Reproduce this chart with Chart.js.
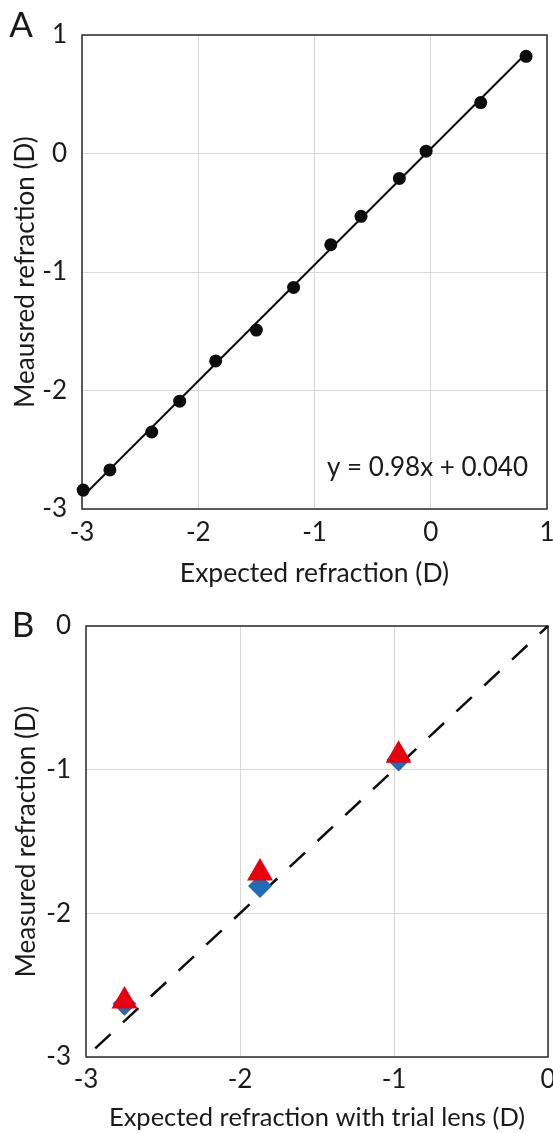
<!DOCTYPE html>
<html>
<head>
<meta charset="utf-8">
<script src="https://cdn.jsdelivr.net/npm/chart.js@4.4.1/dist/chart.umd.min.js"></script>
<style>
  html, body { margin: 0; padding: 0; background: #fff; }
  .panel { position: absolute; left: 0; width: 553px; }
  #wrapA { top: 0; height: 595px; }
  #wrapB { top: 595px; height: 538px; }
</style>
</head>
<body>
<div class="panel" id="wrapA"><canvas id="chartA"></canvas></div>
<div class="panel" id="wrapB"><canvas id="chartB"></canvas></div>
<script>
// Panel A: measured vs expected refraction
const expectedA = [-2.99, -2.76, -2.40, -2.16, -1.85, -1.50, -1.18, -0.86, -0.60, -0.27, -0.04, 0.43, 0.82];
const measuredA = [-2.84, -2.67, -2.35, -2.09, -1.75, -1.49, -1.13, -0.77, -0.53, -0.21, 0.02, 0.43, 0.82];
const fitSlope = 0.98;
const fitIntercept = 0.040;
const ticksA = ['-3', '-2', '-1', '0', '1'];

// Panel B: with trial lens (two measurement series)
const expectedB = [-2.75, -1.87, -0.97];
const measuredBlue = [-2.63, -1.81, -0.93];
const measuredRed = [-2.61, -1.72, -0.90];
const identityB = [-2.94, 0];
const ticksB = ['-3', '-2', '-1', '0'];

const FONT = 'Lato, "Open Sans", sans-serif';
const TEXT = '#1a1a1a';
const SIZE = 26;

function axis(min, max, labels, o) {
  return {
    type: 'linear',
    min: min,
    max: max,
    ticks: {
      stepSize: 1,
      padding: o.tickPad,
      color: TEXT,
      font: { family: FONT, size: SIZE },
      callback: (v, i) => labels[i],
    },
    grid: { color: '#d9d9d9', lineWidth: 1, drawTicks: false },
    border: { display: false },
    title: {
      display: true,
      text: o.title,
      color: TEXT,
      font: { family: FONT, size: o.titleSize || SIZE },
      padding: o.titlePad,
    },
    afterFit: (s) => {
      if (s.isHorizontal()) s.height = o.size; else s.width = o.size;
      s.paddingLeft = s.paddingRight = s.paddingTop = s.paddingBottom = 0;
    },
  };
}

// box around the plot area
const frame = {
  id: 'frame',
  beforeDatasetsDraw(chart) {
    const { ctx, chartArea: a } = chart;
    ctx.save();
    ctx.strokeStyle = '#2b2b2b';
    ctx.lineWidth = 1.5;
    ctx.strokeRect(a.left, a.top, a.width, a.height);
    ctx.restore();
  },
};

// panel letters and the fit equation
const notes = {
  id: 'notes',
  afterDraw(chart, args, opts) {
    const { ctx, chartArea: a } = chart;
    ctx.save();
    ctx.fillStyle = TEXT;
    ctx.textBaseline = 'middle';
    (opts.items || []).forEach(t => {
      ctx.font = t.size + 'px ' + FONT;
      ctx.textAlign = t.align;
      const p = t.at(a);
      ctx.fillText(t.text, p[0], p[1]);
    });
    ctx.restore();
  },
};

const xMinA = Math.min(...expectedA);
const xMaxA = Math.max(...expectedA);

new Chart(document.getElementById('chartA'), {
  type: 'scatter',
  data: {
    datasets: [
      {
        data: expectedA.map((x, i) => ({ x: x, y: measuredA[i] })),
        pointRadius: 6.5,
        backgroundColor: '#0d0d0d',
        borderWidth: 0,
        clip: false,
        order: 0,
      },
      {
        type: 'line',
        data: [xMinA, xMaxA].map(x => ({ x: x, y: fitSlope * x + fitIntercept })),
        borderColor: '#0d0d0d',
        borderWidth: 2,
        pointRadius: 0,
        fill: false,
        clip: false,
        order: 1,
      },
    ],
  },
  options: {
    responsive: true,
    maintainAspectRatio: false,
    animation: false,
    events: [],
    layout: { autoPadding: false, padding: { top: 35, right: 6, left: 0, bottom: 0 } },
    scales: {
      x: axis(-3, 1, ticksA, { title: 'Expected refraction (D)', titleSize: 26.5, tickPad: 8, titlePad: { top: 0, bottom: 6 }, size: 86 }),
      y: axis(-3, 1, ticksA, { title: 'Meausred refraction (D)', tickPad: 15, titlePad: { top: 10, bottom: 0 }, size: 82 }),
    },
    plugins: {
      legend: { display: false },
      tooltip: { enabled: false },
      notes: {
        items: [
          { text: 'A', size: 35, align: 'center', at: () => [21, 26] },
          { text: 'y = 0.98x + 0.040', size: SIZE, align: 'right', at: a => [a.right - 19, a.bottom - 41] },
        ],
      },
    },
  },
  plugins: [frame, notes],
});

new Chart(document.getElementById('chartB'), {
  type: 'scatter',
  data: {
    datasets: [
      {
        data: expectedB.map((x, i) => ({ x: x, y: measuredRed[i] })),
        pointStyle: 'triangle',
        pointRadius: 15,
        backgroundColor: '#e8000e',
        borderWidth: 0,
        clip: false,
        order: 0,
      },
      {
        data: expectedB.map((x, i) => ({ x: x, y: measuredBlue[i] })),
        pointStyle: 'rectRot',
        pointRadius: 12,
        backgroundColor: '#1f6db5',
        borderWidth: 0,
        clip: false,
        order: 1,
      },
      {
        type: 'line',
        data: identityB.map(v => ({ x: v, y: v })),
        borderColor: '#0d0d0d',
        borderWidth: 2.5,
        borderDash: [21, 17],
        pointRadius: 0,
        fill: false,
        clip: false,
        order: 2,
      },
    ],
  },
  options: {
    responsive: true,
    maintainAspectRatio: false,
    animation: false,
    events: [],
    layout: { autoPadding: false, padding: { top: 31, right: 5, left: 0, bottom: 0 } },
    scales: {
      x: axis(-3, 0, ticksB, { title: 'Expected refraction with trial lens (D)', titleSize: 25.5, tickPad: 7, titlePad: { top: 0, bottom: 0 }, size: 76 }),
      y: axis(-3, 0, ticksB, { title: 'Measured refraction (D)', tickPad: 15, titlePad: { top: 11, bottom: 0 }, size: 86 }),
    },
    plugins: {
      legend: { display: false },
      tooltip: { enabled: false },
      notes: {
        items: [
          { text: 'B', size: 35, align: 'center', at: () => [23, 31] },
        ],
      },
    },
  },
  plugins: [frame, notes],
});
</script>
</body>
</html>
